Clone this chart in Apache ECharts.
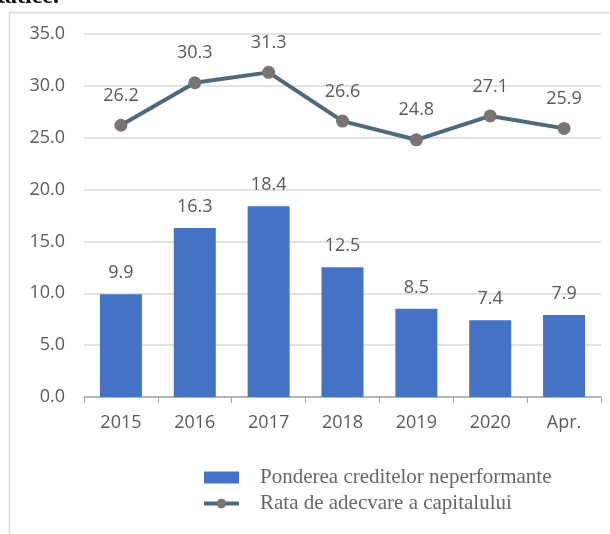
<!DOCTYPE html>
<html>
<head>
<meta charset="utf-8">
<script src="https://cdn.jsdelivr.net/npm/echarts@6/dist/echarts.min.js"></script>
<style>
  html, body { margin: 0; padding: 0; background: #fff; }
  #chart { width: 610px; height: 534px; }
</style>
</head>
<body>
<div id="chart"></div>
<script>
  // data
  let categories = ['2015', '2016', '2017', '2018', '2019', '2020', 'Apr.']
  let npl = [9.9, 16.3, 18.4, 12.5, 8.5, 7.4, 7.9]
  let capital = [26.2, 30.3, 31.3, 26.6, 24.8, 27.1, 25.9]
  let yTicks = { min: 0, max: 35, step: 5 }

  let colors = ['#4472C4', '#4E6A7A', '#7A7474', '#595959', '#D9D9D9']
  let sans = '"Open Sans", sans-serif'
  let serif = '"Liberation Serif", serif'

  let chart = echarts.init(document.getElementById('chart'))

  let option = {
    animation: false,
    grid: { left: 84, right: 9, top: 34, bottom: 137, containLabel: false },
    legend: {
      orient: 'vertical',
      left: 197,
      top: 462,
      itemWidth: 35,
      itemHeight: 12,
      itemGap: 5,
      textStyle: {
        fontFamily: serif, fontSize: 21, color: '#666666', lineHeight: 20,
        padding: [0, 0, 0, 16]
      },
      data: [
        { name: 'Ponderea creditelor neperformante', icon: 'rect' },
        { name: 'Rata de adecvare a capitalului', lineStyle: { width: 4 } }
      ]
    },
    graphic: [
      {
        type: 'rect',
        shape: { x: 9.5, y: 12.5, width: 800, height: 800 },
        style: { fill: 'none', stroke: colors[4], lineWidth: 1.5 }
      },
      {
        type: 'text',
        x: -3, y: 9,
        style: {
          text: 'tatice.',
          font: 'bold 24px "Liberation Serif", serif',
          fill: '#111',
          verticalAlign: 'bottom'
        }
      }
    ],
    xAxis: {
      type: 'category',
      data: categories,
      axisLine: { lineStyle: { color: '#A6A6A6', width: 1.5 } },
      axisTick: { show: true, length: 6, lineStyle: { color: '#A6A6A6' } },
      axisLabel: { color: colors[3], fontFamily: sans, fontSize: 18, margin: 17 }
    },
    yAxis: {
      type: 'value',
      min: yTicks.min,
      max: yTicks.max,
      interval: yTicks.step,
      axisLine: { show: false },
      axisTick: { show: false },
      axisLabel: {
        color: colors[3], fontFamily: sans, fontSize: 18, margin: 19,
        formatter: function (v) { return v.toFixed(1) }
      },
      splitLine: { lineStyle: { color: colors[4], width: 1.5 } }
    },
    series: [
      {
        name: 'Ponderea creditelor neperformante',
        type: 'bar',
        data: npl,
        barWidth: 42,
        itemStyle: { color: colors[0] },
        label: {
          show: true, position: 'top', distance: 12,
          color: colors[3], fontFamily: sans, fontSize: 18,
          formatter: function (p) { return p.value.toFixed(1) }
        }
      },
      {
        name: 'Rata de adecvare a capitalului',
        type: 'line',
        data: capital,
        symbol: 'circle',
        symbolSize: 13,
        lineStyle: { color: colors[1], width: 4 },
        itemStyle: { color: colors[2] },
        label: {
          show: true, position: 'top', distance: 14,
          color: colors[3], fontFamily: sans, fontSize: 18,
          formatter: function (p) { return p.value.toFixed(1) }
        }
      }
    ]
  }

  chart.setOption(option)
</script>
</body>
</html>
